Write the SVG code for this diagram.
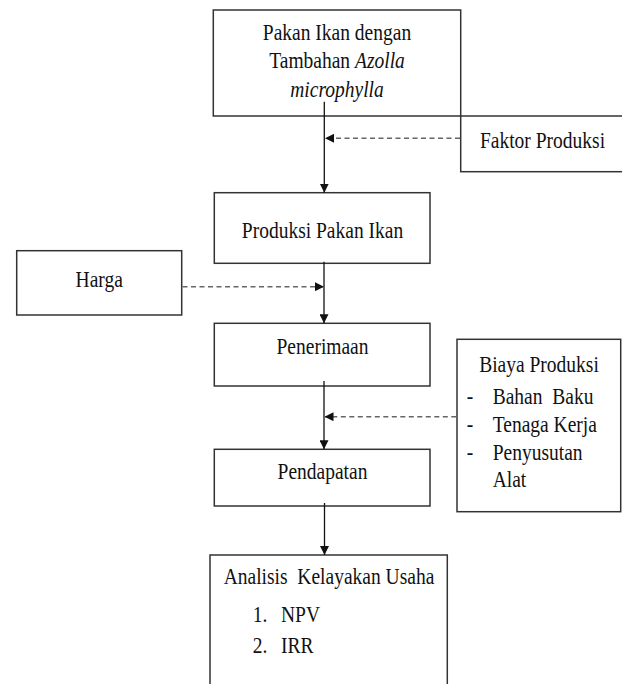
<svg xmlns="http://www.w3.org/2000/svg" width="622" height="684" viewBox="0 0 622 684">
<style>
.box{fill:#fff;stroke:#333;stroke-width:1.5}
.t{font-family:"Liberation Serif","Times New Roman",serif;font-size:19.5px;fill:#111}
.c{text-anchor:middle}
.solid{stroke:#111;stroke-width:1.3;fill:none}
.dash{stroke:#666;stroke-width:1.6;stroke-dasharray:5 3.5;fill:none}
</style>
<defs>
<marker id="ah" viewBox="0 0 10 10" refX="10" refY="5" markerWidth="9" markerHeight="9" markerUnits="userSpaceOnUse" orient="auto">
<path d="M0,0 L10,5 L0,10 z" fill="#111"/>
</marker>
</defs>
<rect width="622" height="684" fill="#fff"/>
<g id="n-pakan">
<rect class="box" x="213.3" y="10" width="247.4" height="106"/>
<text class="t c" transform="translate(337 40) scale(1 1.17)">Pakan Ikan dengan</text>
<text class="t c" transform="translate(337 68.3) scale(1 1.17)">Tambahan <tspan font-style="italic">Azolla</tspan></text>
<text class="t c" transform="translate(337 96.7) scale(1 1.17)" font-style="italic">microphylla</text>
</g>
<g id="n-faktor">
<rect class="box" x="460.7" y="116" width="180" height="55.7"/>
<text class="t c" transform="translate(542.5 148.3) scale(1 1.17)">Faktor Produksi</text>
</g>
<g id="n-produksi">
<rect class="box" x="214.3" y="192.7" width="215.7" height="70.6"/>
<text class="t c" transform="translate(322.5 238.3) scale(1 1.17)">Produksi Pakan Ikan</text>
</g>
<g id="n-harga">
<rect class="box" x="16.7" y="250.7" width="165" height="64.3"/>
<text class="t c" transform="translate(99.2 287.3) scale(1 1.17)">Harga</text>
</g>
<g id="n-penerimaan">
<rect class="box" x="214.3" y="323.3" width="215.7" height="62.7"/>
<text class="t c" transform="translate(322.5 354) scale(1 1.17)">Penerimaan</text>
</g>
<g id="n-biaya">
<rect class="box" x="457" y="339.3" width="163.7" height="172.4"/>
<text class="t c" transform="translate(539 371.7) scale(1 1.17)">Biaya Produksi</text>
<text class="t" transform="translate(466.7 404) scale(1 1.17)">-</text>
<text class="t" transform="translate(492.7 404) scale(1 1.17)" xml:space="preserve">Bahan  Baku</text>
<text class="t" transform="translate(466.7 431.7) scale(1 1.17)">-</text>
<text class="t" transform="translate(492.7 431.7) scale(1 1.17)">Tenaga Kerja</text>
<text class="t" transform="translate(466.7 460) scale(1 1.17)">-</text>
<text class="t" transform="translate(492.7 460) scale(1 1.17)">Penyusutan</text>
<text class="t" transform="translate(492.7 487.3) scale(1 1.17)">Alat</text>
</g>
<g id="n-pendapatan">
<rect class="box" x="214.3" y="449.3" width="215.7" height="56.7"/>
<text class="t c" transform="translate(322.5 479.3) scale(1 1.17)">Pendapatan</text>
</g>
<g id="n-analisis">
<rect class="box" x="210" y="555" width="237.3" height="140"/>
<text class="t c" transform="translate(329 584) scale(1 1.17)" xml:space="preserve">Analisis  Kelayakan Usaha</text>
<text class="t" transform="translate(252.7 621.7) scale(1 1.17)">1.</text>
<text class="t" transform="translate(281 621.7) scale(1 1.17)">NPV</text>
<text class="t" transform="translate(252.7 653.3) scale(1 1.17)">2.</text>
<text class="t" transform="translate(281 653.3) scale(1 1.17)">IRR</text>
</g>
<g id="connectors">
<line class="solid" x1="324.3" y1="101.7" x2="324.3" y2="192.7" marker-end="url(#ah)"/>
<line class="solid" x1="324" y1="261.7" x2="324" y2="323.3" marker-end="url(#ah)"/>
<line class="solid" x1="324" y1="381" x2="324" y2="449.3" marker-end="url(#ah)"/>
<line class="solid" x1="324.5" y1="503" x2="324.5" y2="555" marker-end="url(#ah)"/>
<line class="dash" x1="460" y1="138.3" x2="325" y2="138.3" marker-end="url(#ah)"/>
<line class="dash" x1="182.5" y1="286.7" x2="324" y2="286.7" marker-end="url(#ah)"/>
<line class="dash" x1="456.3" y1="416.7" x2="324.5" y2="416.7" marker-end="url(#ah)"/>
</g>
</svg>
